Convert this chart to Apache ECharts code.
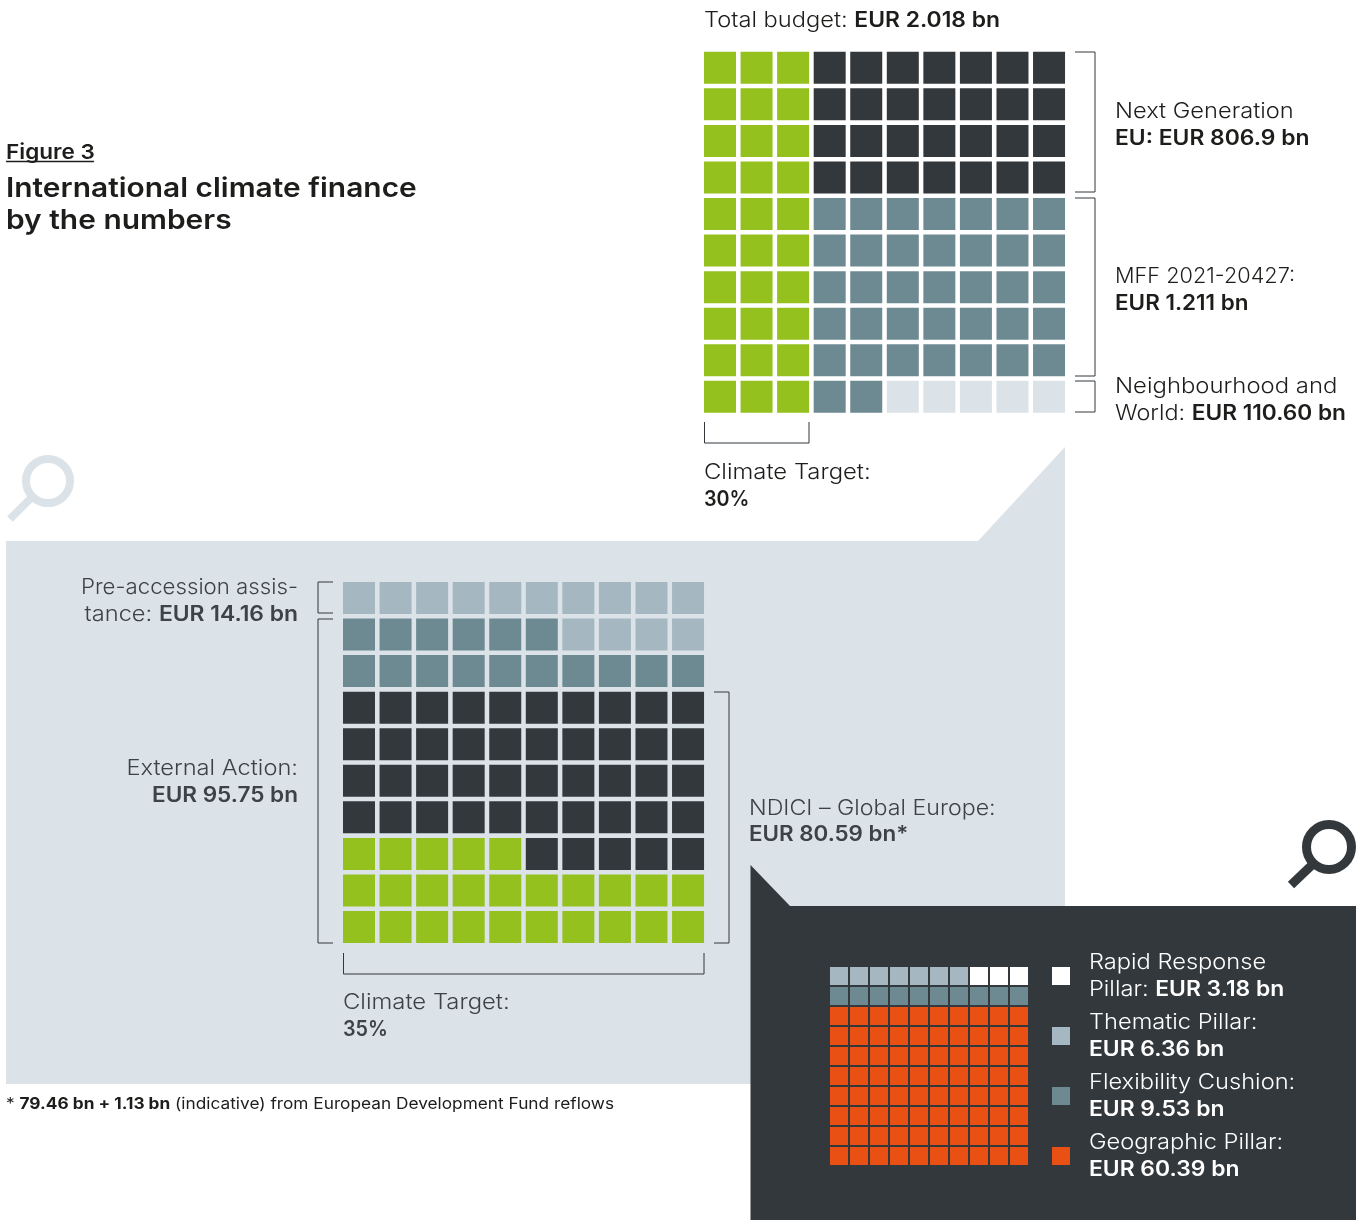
<!DOCTYPE html>
<html><head><meta charset="utf-8">
<style>html,body{margin:0;padding:0;background:#fff}#c{width:1362px;height:1220px}</style>
<script src="https://cdn.jsdelivr.net/npm/echarts@6/dist/echarts.min.js"></script>
</head><body><div id="c"></div>
<script>
const GREEN='#95c11f',DARK='#33383c',MID='#6d8a92',STEEL='#a5b8c1',PALE='#dbe2e8',ORANGE='#e85113',WHITE='#ffffff',INK='#1d1d1b',SOFT='#3c4246';
const FONT='Inter';

// each row of ten cells, one letter per cell
const budgetRows=['GGGDDDDDDD','GGGDDDDDDD','GGGDDDDDDD','GGGDDDDDDD','GGGMMMMMMM','GGGMMMMMMM','GGGMMMMMMM','GGGMMMMMMM','GGGMMMMMMM','GGGMMPPPPP'];
const budgetCats={G:['Climate target 30%',GREEN],D:['Next Generation EU',DARK],M:['MFF 2021-20427',MID],P:['Neighbourhood and World',PALE]};
const externalRows=['SSSSSSSSSS','MMMMMMSSSS','MMMMMMMMMM','DDDDDDDDDD','DDDDDDDDDD','DDDDDDDDDD','DDDDDDDDDD','GGGGGDDDDD','GGGGGGGGGG','GGGGGGGGGG'];
const externalCats={G:['Climate target 35%',GREEN],D:['NDICI',DARK],M:['External Action',MID],S:['Pre-accession assistance',STEEL]};
const ndiciRows=['TTTTTTTRRR','FFFFFFFFFF','OOOOOOOOOO','OOOOOOOOOO','OOOOOOOOOO','OOOOOOOOOO','OOOOOOOOOO','OOOOOOOOOO','OOOOOOOOOO','OOOOOOOOOO'];
const ndiciCats={R:['Rapid Response Pillar',WHITE],T:['Thematic Pillar',STEEL],F:['Flexibility Cushion',MID],O:['Geographic Pillar',ORANGE]};
const legendNames=['Rapid Response Pillar','Thematic Pillar','Flexibility Cushion','Geographic Pillar'];

const grids=[
 {left:701.72,top:49.5,width:365.6,height:365.6},
 {left:340.72,top:579.72,width:365.6,height:365.6},
 {left:829,top:966,width:200,height:200}];
const xAxis=grids.map((g,i)=>({gridIndex:i,type:'value',min:-0.5,max:9.5,show:false}));
const yAxis=grids.map((g,i)=>({gridIndex:i,type:'value',min:-0.5,max:9.5,inverse:true,show:false}));

function waffle(rows,cats,gridIdx,size){
  return Object.keys(cats).map(k=>{
    const data=[];
    rows.forEach((r,y)=>[...r].forEach((c,x)=>{if(c===k)data.push([x,y]);}));
    return {type:'scatter',name:cats[k][0],xAxisIndex:gridIdx,yAxisIndex:gridIdx,symbol:'rect',symbolSize:size,
      itemStyle:{color:cats[k][1],opacity:1},data,silent:true,z:3};
  });
}

const R=(color)=>({
 a:{fontFamily:FONT,fontWeight:300,fontSize:21.5,fill:color,color},
 b:{fontFamily:FONT,fontWeight:600,fontSize:20.8,fill:color,color},
 f:{fontFamily:FONT,fontWeight:400,fontSize:15.7,fill:color,color},
 g:{fontFamily:FONT,fontWeight:700,fontSize:15.7,fill:color,color},
 t:{fontFamily:FONT,fontWeight:600,fontSize:27.2,fill:color,color},
 h:{fontFamily:FONT,fontWeight:600,fontSize:20.5,fill:color,color}});
const txt=(x,y,text,color,align,sx)=>({type:'text',x,y:y+3,scaleX:sx||1.1,z:10,silent:true,
  style:{text,rich:R(color||INK),align:align||'left',verticalAlign:'middle',textAlign:align||'left',textVerticalAlign:'middle'}});
const line=(pts,color,w)=>({type:'polyline',z:8,silent:true,shape:{points:pts},style:{stroke:color||DARK,lineWidth:w||1,fill:null}});
const poly=(pts,fill,z)=>({type:'polygon',z,silent:true,shape:{points:pts},style:{fill}});
const lens=(cx,cy,r,w,h,color)=>[
 {type:'circle',z:9,silent:true,shape:{cx,cy,r},style:{fill:null,stroke:color,lineWidth:w}},
 line(h,color,w)];

const graphic=[
 poly([[6,541],[978,541],[1065,447],[1065,1084],[6,1084]],PALE,0),
 poly([[750.5,865],[790,906],[1356,906],[1356,1220],[750.5,1220]],DARK,1),
 ...lens(48,481,22,8,[[33,496],[10,519]],PALE),
 ...lens(1329,847,22.5,9,[[1313,864],[1291,885]],DARK),
 txt(6,150,'{h|Figure 3}'),
 line([[6,161.5],[94,161.5]],INK,1.5),
 txt(6,186,'{t|International climate finance}'),
 txt(6,218,'{t|by the numbers}'),
 txt(704,18,'{a|Total budget: }{b|EUR 2.018 bn}'),
 line([[1075,52],[1095,52],[1095,192],[1075,192]]),
 line([[1075,198],[1095,198],[1095,376],[1075,376]]),
 line([[1075,381],[1095,381],[1095,412],[1075,412]]),
 line([[704.5,422],[704.5,443],[809,443],[809,422]]),
 txt(1115,109,'{a|Next Generation}'),
 txt(1115,136,'{b|EU: EUR 806.9 bn}'),
 txt(1115,274,'{a|MFF 2021-20427:}',INK,'left',1.01),
 txt(1115,301,'{b|EUR 1.211 bn}',INK,'left',1.08),
 txt(1115,384,'{a|Neighbourhood and}',INK,'left',1.11),
 txt(1115,411,'{a|World: }{b|EUR 110.60 bn}',INK,'left',1.09),
 txt(704,470,'{a|Climate Target:}',INK,'left',1.11),
 txt(704,497,'{b|30%}',INK,'left',0.95),
 line([[333,582],[318,582],[318,613],[333,613]]),
 line([[333,619],[318,619],[318,943],[333,943]]),
 line([[714,692],[729,692],[729,943],[714,943]]),
 line([[343.5,953],[343.5,974],[704,974],[704,953]]),
 txt(298,585,'{a|Pre-accession assis-}',SOFT,'right',1.034),
 txt(298,612,'{a|tance: }{b|EUR 14.16 bn}',SOFT,'right'),
 txt(298,766,'{a|External Action:}',SOFT,'right'),
 txt(298,793,'{b|EUR 95.75 bn}',SOFT,'right',1.085),
 txt(749,806,'{a|NDICI – Global Europe:}',SOFT,'left',1.08),
 txt(749,832,'{b|EUR 80.59 bn*}',SOFT,'left',1.075),
 txt(343,1000,'{a|Climate Target:}',SOFT,'left',1.11),
 txt(343,1027,'{b|35%}',SOFT,'left',0.95),
 txt(1089,960,'{a|Rapid Response}',WHITE),
 txt(1089,987,'{a|Pillar: }{b|EUR 3.18 bn}',WHITE),
 txt(1089,1020,'{a|Thematic Pillar:}',WHITE),
 txt(1089,1047,'{b|EUR 6.36 bn}',WHITE),
 txt(1089,1080,'{a|Flexibility Cushion:}',WHITE),
 txt(1089,1107,'{b|EUR 9.53 bn}',WHITE),
 txt(1089,1140,'{a|Geographic Pillar:}',WHITE),
 txt(1089,1167,'{b|EUR 60.39 bn}',WHITE),
 txt(6,1101,'{f|* }{g|79.46 bn + 1.13 bn}{f| (indicative) from European Development Fund reflows}')
];

const chart=echarts.init(document.getElementById('c'),null,{renderer:'canvas'});
chart.setOption({
 animation:false,backgroundColor:'#fff',tooltip:{show:false},
 grid:grids,xAxis,yAxis,graphic,
 legend:{orient:'vertical',left:1052,top:967,padding:0,itemWidth:18,itemHeight:18,itemGap:42,selectedMode:false,icon:'rect',
  data:legendNames,formatter:()=>'',textStyle:{fontSize:1}},
 series:[...waffle(budgetRows,budgetCats,0,32),...waffle(externalRows,externalCats,1,32),...waffle(ndiciRows,ndiciCats,2,18)]
});
</script></body></html>
